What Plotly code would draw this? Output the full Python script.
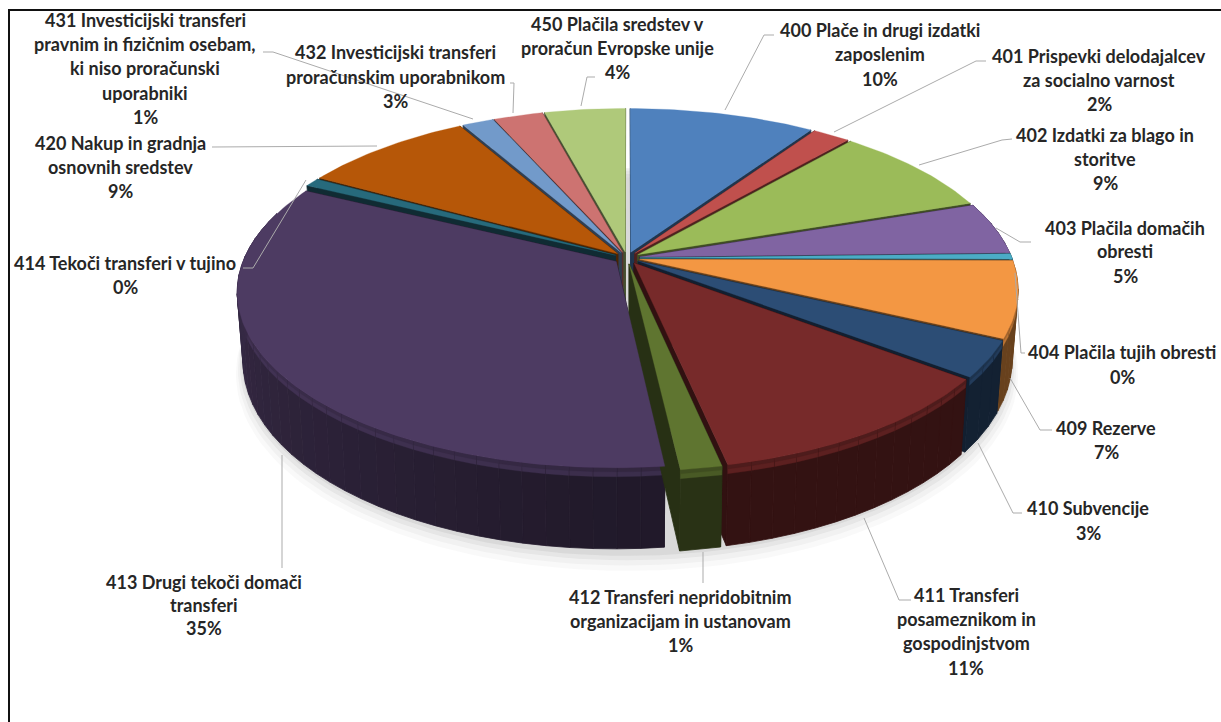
import numpy as np
import plotly.graph_objects as go

# ---------- data ----------
codes = ["400", "401", "402", "403", "404", "409", "410", "411", "412", "413", "414", "420", "431", "432", "450"]
values = [9.4, 1.9, 8.5, 4.8, 0.5, 7.0, 3.3, 11.3, 1.5, 34.1, 0.8, 8.7, 1.6, 2.5, 4.1]
label_lines = {
    "400": ["400 Plače in drugi izdatki", "zaposlenim", "10%"],
    "401": ["401 Prispevki delodajalcev", "za socialno varnost", "2%"],
    "402": ["402 Izdatki za blago in", "storitve", "9%"],
    "403": ["403 Plačila domačih", "obresti", "5%"],
    "404": ["404 Plačila tujih obresti", "0%"],
    "409": ["409 Rezerve", "7%"],
    "410": ["410 Subvencije", "3%"],
    "411": ["411 Transferi", "posameznikom in", "gospodinjstvom", "11%"],
    "412": ["412 Transferi nepridobitnim", "organizacijam in ustanovam", "1%"],
    "413": ["413 Drugi tekoči domači", "transferi", "35%"],
    "414": ["414 Tekoči transferi v tujino", "0%"],
    "420": ["420 Nakup in gradnja", "osnovnih sredstev", "9%"],
    "431": ["431 Investicijski transferi", "pravnim in fizičnim osebam,", "ki niso proračunski", "uporabniki", "1%"],
    "432": ["432 Investicijski transferi", "proračunskim uporabnikom", "3%"],
    "450": ["450 Plačila sredstev v", "proračun Evropske unije", "4%"],
}

# ---------- styles / layout ----------
top_colors = ["#4F81BD", "#C0504D", "#9BBB59", "#8064A2", "#4BACC6", "#F39743", "#2C4D75", "#772A2A",
              "#5F7530", "#4D3B62", "#276A7C", "#B65708", "#729ACA", "#CD7371", "#AFC97A"]
label_pos = {
    "400": (880, [30, 54, 79]), "401": (1099, [56, 80, 104]), "402": (1105, [135, 159, 183]),
    "403": (1125, [228, 251, 276]), "404": (1122, [352, 377]), "409": (1106, [428, 452]),
    "410": (1088, [508, 533]), "411": (966, [595, 619, 643, 668]), "412": (680, [597, 621, 645]),
    "413": (204, [582, 605, 628]), "414": (125, [263, 287]), "420": (120, [143, 167, 191]),
    "431": (145, [20, 44, 68, 93, 117]), "432": (395, [52, 77, 101]), "450": (617, [24, 48, 72]),
}
leaders = [
    [(774, 35), (764, 35), (725, 110)], [(986, 61), (976, 61), (834, 132)],
    [(1012, 139), (1002, 140), (919, 165)], [(1031, 242), (1020, 242), (996, 228)],
    [(1015, 273), (1021, 353), (1025, 353)], [(1010, 378), (1040, 430), (1052, 430)],
    [(978, 443), (1013, 513), (1022, 513)], [(864, 518), (899, 600), (911, 600)],
    [(703, 552), (703, 583)], [(282, 455), (282, 568)],
    [(306, 180), (253, 268), (243, 268)], [(212, 147), (377, 146)],
    [(263, 52), (273, 52), (473, 119)], [(510, 83), (514, 83), (513, 113)],
    [(595, 77), (587, 77), (581, 106)],
]
CX, CY, RX, RY, K = 627, 258, 372, 170, 0.17
DEPTH, BOTTOM_X, EXPLODE = 67, 0.985, 0.035


def hex2rgb(c):
    return np.array([int(c[i:i + 2], 16) for i in (1, 3, 5)], float)


def css(rgb):
    r = np.clip(np.round(rgb), 0, 255).astype(int)
    return f"rgb({r[0]},{r[1]},{r[2]})"


def project(X, Y):
    s = 1 / (1 - K * Y)
    return CX + RX * X * s, CY + RY * Y * s, s


def lower(px, py, s, frac=1.0):
    return CX + (px - CX) * (1 - (1 - BOTTOM_X) * frac), py + DEPTH * s * frac


def poly(xs, ys, color, lw=0.8):
    return go.Scatter(x=list(xs), y=list(ys), mode="lines", fill="toself", fillcolor=color,
                      line=dict(color=color, width=lw), hoverinfo="skip", showlegend=False)


fig = go.Figure()

# soft shadow below the pie
ang = np.radians(np.linspace(0, 360, 181))
for grow, off, alpha in [(1.05, 14, 0.035), (1.045, 10, 0.05), (1.04, 6, 0.07), (1.035, 3, 0.09)]:
    px, py, s = project(grow * np.sin(ang), -grow * np.cos(ang))
    bx, by = lower(px, py, s)
    fig.add_trace(poly(bx, by + off, f"rgba(90,90,90,{alpha})", lw=0))

total = sum(values)
edges = np.cumsum([0] + values) / total * 360
slices = []
for i, v in enumerate(values):
    t0, t1 = edges[i], edges[i + 1]
    mid = np.radians((t0 + t1) / 2)
    slices.append(dict(i=i, t0=t0, t1=t1, ox=EXPLODE * np.sin(mid), oy=-EXPLODE * np.cos(mid), depth=-np.cos(mid)))
order = sorted(slices, key=lambda d: d["depth"])

# walls
for sl in order:
    top = hex2rgb(top_colors[sl["i"]])
    wall = top * 0.43
    ox, oy = sl["ox"], sl["oy"]
    ax, ay, az = project(ox, oy)
    abx, aby = lower(ax, ay, az)
    for t in (sl["t0"], sl["t1"]):
        r = np.radians(t)
        px, py, s = project(ox + np.sin(r), oy - np.cos(r))
        bx, by = lower(px, py, s)
        fig.add_trace(poly([ax, px, bx, abx, ax], [ay, py, by, aby, ay], css(wall * 0.95)))
    n = max(1, int((sl["t1"] - sl["t0"]) / 3))
    grid = np.linspace(sl["t0"], sl["t1"], n + 1)
    for a, b in zip(grid[:-1], grid[1:]):
        m = (a + b) / 2
        if -np.cos(np.radians(m)) < -0.3:
            continue
        rr = np.radians(np.linspace(a, b, 3))
        px, py, s = project(ox + np.sin(rr), oy - np.cos(rr))
        bx, by = lower(px, py, s)
        shade = 1 + 0.65 * np.clip((m - 180) / 90, 0, 1)
        fig.add_trace(poly(np.r_[px, bx[::-1], px[0]], np.r_[py, by[::-1], py[0]], css(wall * shade)))
        # bevel band at the top of the rim
        for frac, mix in [(0.11, 0.6), (0.05, 0.4)]:
            bx2, by2 = lower(px, py, s, frac)
            fig.add_trace(poly(np.r_[px, bx2[::-1], px[0]], np.r_[py, by2[::-1], py[0]],
                               css(wall * shade * (1 - mix) + top * mix), lw=0.3))

# top faces
for sl in order:
    rr = np.radians(np.linspace(sl["t0"], sl["t1"], max(3, int(sl["t1"] - sl["t0"]) + 2)))
    ox, oy = sl["ox"], sl["oy"]
    px, py, _ = project(ox + np.sin(rr), oy - np.cos(rr))
    ax, ay, _ = project(ox, oy)
    fig.add_trace(poly(np.r_[ax, px, ax], np.r_[ay, py, ay], top_colors[sl["i"]], lw=0.3))

# leader lines
for pts in leaders:
    fig.add_trace(go.Scatter(x=[p[0] for p in pts], y=[p[1] for p in pts], mode="lines",
                             line=dict(color="#ABABAB", width=1), hoverinfo="skip", showlegend=False))

# frame of the picture
fig.add_trace(go.Scatter(x=[9, 9, 1221], y=[722, 10, 10], mode="lines",
                         line=dict(color="#111111", width=2), hoverinfo="skip", showlegend=False))

# labels
for code in codes:
    x0, ys = label_pos[code]
    for text, y0 in zip(label_lines[code], ys):
        fig.add_annotation(x=x0, y=y0, text=f"<b>{text}</b>", showarrow=False, xanchor="center", yanchor="middle",
                           font=dict(family="Lato, Carlito, sans-serif", size=18, color="#262626"))

fig.update_xaxes(range=[0, 1221], visible=False, fixedrange=True)
fig.update_yaxes(range=[722, 0], visible=False, fixedrange=True)
fig.update_layout(width=1221, height=722, margin=dict(l=0, r=0, t=0, b=0), showlegend=False,
                  paper_bgcolor="white", plot_bgcolor="white")
fig.write_html("out.html", config={"displayModeBar": False},
               post_script="document.body.style.margin='0';document.documentElement.style.overflow='hidden';")
